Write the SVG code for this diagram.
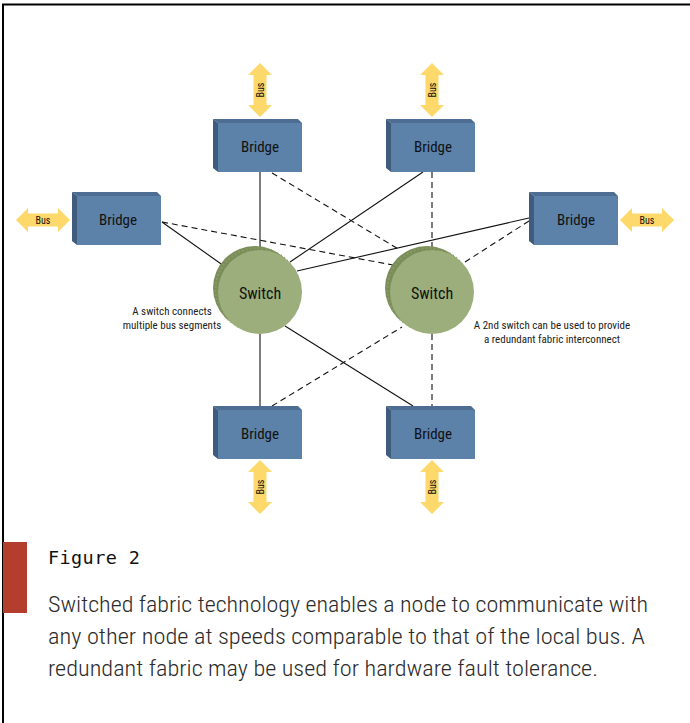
<svg xmlns="http://www.w3.org/2000/svg" width="690" height="723" viewBox="0 0 690 723">
  <style>
    .lbl { font-family: "Roboto Condensed", "Liberation Sans Narrow", "Liberation Sans", sans-serif; fill: #111; text-anchor: middle; }
    .bridge-front { fill: #5c82aa; }
    .bridge-top { fill: #4d6d93; }
    .bridge-side { fill: #3f5b7e; }
    .sw-back { fill: #7b8e59; }
    .sw-rib { fill: none; stroke: #8a9d68; stroke-width: 2; stroke-dasharray: 1.5 2.5; }
    .sw-front { fill: #9cae7b; }
    .bus { fill: #fdd86b; }
    .solid { stroke: #111; stroke-width: 1.1; fill: none; }
    .dash { stroke: #111; stroke-width: 1.1; fill: none; stroke-dasharray: 6 4; }
    .note { font-family: "Roboto Condensed", "Liberation Sans Narrow", "Liberation Sans", sans-serif; font-size: 11px; fill: #222; text-anchor: middle; }
    .cap { font-family: "Roboto Condensed", "Liberation Sans Narrow", "Liberation Sans", sans-serif; font-weight: 300; font-size: 22px; fill: #2b2b2b; }
  </style>
  <defs>
    <!-- double-headed bus arrow, vertical, centred on origin -->
    <path id="busArrow" class="bus" d="M0,-27 L12,-15 L6.5,-15 L6.5,15 L12,15 L0,27 L-12,15 L-6.5,15 L-6.5,-15 L-12,-15 Z"/>
    <!-- bridge box with bevelled top and left faces -->
    <g id="bridgeBox">
      <polygon class="bridge-top" points="0,0 85,0 89,4 5,4"/>
      <polygon class="bridge-side" points="0,0 5,4 5,53 0,49"/>
      <rect class="bridge-front" x="5" y="4" width="84" height="49"/>
    </g>
    <!-- switch disc -->
    <g id="switchDisc">
      <circle class="sw-back" cx="-5" cy="-4" r="42"/>
      <circle class="sw-rib" cx="-3" cy="-2.5" r="41.5"/>
      <circle class="sw-front" cx="0" cy="0" r="42"/>
    </g>
  </defs>

  <rect width="690" height="723" fill="#fff"/>
  <!-- page frame -->
  <path d="M3,723 V4.5 H690" fill="none" stroke="#000" stroke-width="2"/>

  <!-- connectors -->
  <g id="connectors">
    <!-- primary switch: solid -->
    <line class="solid" x1="260" y1="172" x2="260" y2="250"/>
    <line class="solid" x1="162" y1="222" x2="224" y2="266"/>
    <line class="solid" x1="423" y1="172" x2="290" y2="262"/>
    <line class="solid" x1="529" y1="218" x2="297" y2="271"/>
    <line class="solid" x1="260" y1="334" x2="260" y2="406"/>
    <line class="solid" x1="285" y1="326" x2="413" y2="406"/>
    <!-- redundant switch: dashed -->
    <line class="dash" x1="432" y1="172" x2="432" y2="250"/>
    <line class="dash" x1="272" y1="173" x2="400" y2="250"/>
    <line class="dash" x1="162" y1="222" x2="393" y2="265"/>
    <line class="dash" x1="529" y1="221" x2="465" y2="262"/>
    <line class="dash" x1="272" y1="406" x2="402" y2="327"/>
    <line class="dash" x1="432" y1="334" x2="432" y2="406"/>
  </g>

  <!-- bus arrows -->
  <g id="bus-top-left">
    <use href="#busArrow" transform="translate(260,90)"/>
    <text class="lbl" font-size="10" transform="translate(263.5,90) rotate(-90)">Bus</text>
  </g>
  <g id="bus-top-right">
    <use href="#busArrow" transform="translate(432,90)"/>
    <text class="lbl" font-size="10" transform="translate(435.5,90) rotate(-90)">Bus</text>
  </g>
  <g id="bus-left">
    <use href="#busArrow" transform="translate(43,220) rotate(90)"/>
    <text class="lbl" font-size="10" x="43" y="223.5">Bus</text>
  </g>
  <g id="bus-right">
    <use href="#busArrow" transform="translate(647,220) rotate(90)"/>
    <text class="lbl" font-size="10" x="647" y="223.5">Bus</text>
  </g>
  <g id="bus-bottom-left">
    <use href="#busArrow" transform="translate(260,487)"/>
    <text class="lbl" font-size="10" transform="translate(263.5,487) rotate(-90)">Bus</text>
  </g>
  <g id="bus-bottom-right">
    <use href="#busArrow" transform="translate(432,487)"/>
    <text class="lbl" font-size="10" transform="translate(435.5,487) rotate(-90)">Bus</text>
  </g>

  <!-- bridges -->
  <g id="bridge-top-left" transform="translate(213,119)">
    <use href="#bridgeBox"/>
    <text class="lbl" font-size="15" x="47" y="33">Bridge</text>
  </g>
  <g id="bridge-top-right" transform="translate(386,119)">
    <use href="#bridgeBox"/>
    <text class="lbl" font-size="15" x="47" y="33">Bridge</text>
  </g>
  <g id="bridge-left" transform="translate(72,192)">
    <use href="#bridgeBox"/>
    <text class="lbl" font-size="15" x="46" y="33">Bridge</text>
  </g>
  <g id="bridge-right" transform="translate(529,192)">
    <use href="#bridgeBox"/>
    <text class="lbl" font-size="15" x="47" y="33">Bridge</text>
  </g>
  <g id="bridge-bottom-left" transform="translate(213,406)">
    <use href="#bridgeBox"/>
    <text class="lbl" font-size="15" x="47" y="33">Bridge</text>
  </g>
  <g id="bridge-bottom-right" transform="translate(386,406)">
    <use href="#bridgeBox"/>
    <text class="lbl" font-size="15" x="47" y="33">Bridge</text>
  </g>

  <!-- switches -->
  <g id="switch-primary" transform="translate(260,292)">
    <use href="#switchDisc"/>
    <text class="lbl" font-size="16" x="0" y="7">Switch</text>
  </g>
  <g id="switch-redundant" transform="translate(432,292)">
    <use href="#switchDisc"/>
    <text class="lbl" font-size="16" x="0" y="7">Switch</text>
  </g>

  <!-- annotations -->
  <g id="note-primary">
    <text class="note" x="172" y="315">A switch connects</text>
    <text class="note" x="172" y="329">multiple bus segments</text>
  </g>
  <g id="note-redundant">
    <text class="note" x="552" y="329">A 2nd switch can be used to provide</text>
    <text class="note" x="552" y="343">a redundant fabric interconnect</text>
  </g>

  <!-- caption -->
  <g id="caption">
    <rect x="3" y="542" width="24" height="71" fill="#b33e2d"/>
    <text x="48" y="564" font-family="'DejaVu Sans Mono', 'Liberation Mono', monospace" font-size="18.5" letter-spacing="0.4" fill="#111">Figure 2</text>
    <text class="cap" x="48" y="612" textLength="600" lengthAdjust="spacingAndGlyphs">Switched fabric technology enables a node to communicate with</text>
    <text class="cap" x="48" y="644" textLength="597" lengthAdjust="spacingAndGlyphs">any other node at speeds comparable to that of the local bus. A</text>
    <text class="cap" x="48" y="676" textLength="550" lengthAdjust="spacingAndGlyphs">redundant fabric may be used for hardware fault tolerance.</text>
  </g>
</svg>
